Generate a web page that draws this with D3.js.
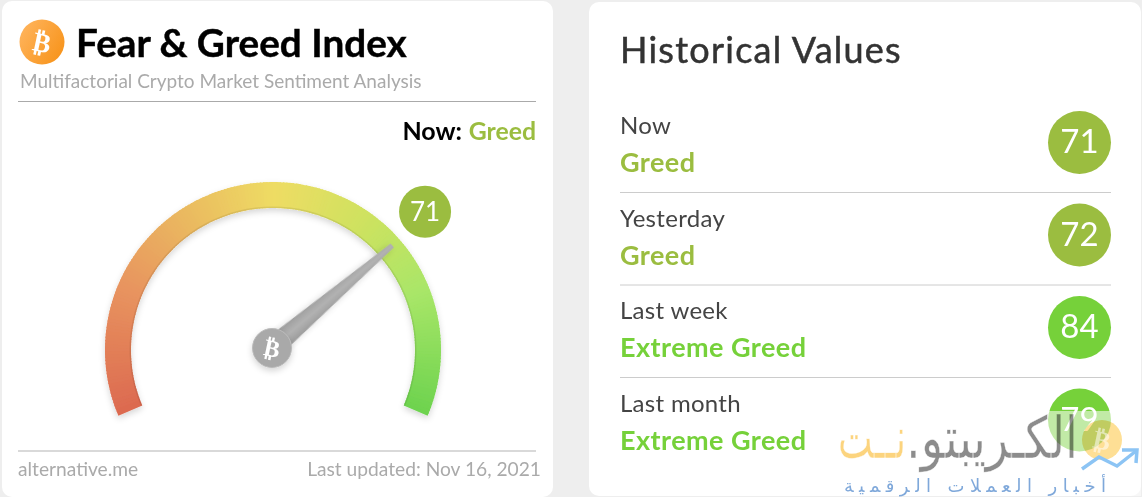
<!DOCTYPE html>
<html><head><meta charset="utf-8">
<script src="https://cdn.jsdelivr.net/npm/d3@7"></script>
<style>html,body{margin:0;padding:0;background:#eee;overflow:hidden}svg{display:block}text{font-family:Lato,sans-serif}</style>
</head><body><svg id="c" width="1142" height="497"></svg>
<script>
const currentValue = 71;
const currentStatus = "Greed";
const periods = ["Now","Yesterday","Last week","Last month"];
const statuses = ["Greed","Greed","Extreme Greed","Extreme Greed"];
const values = [71,72,84,79];
const statusColors = {"Greed":"#9bbd40","Extreme Greed":"#76d13a"};
const gaugeStops = [0,20,35,50,65,80,100];
const gaugeColors = ["#dc6a50","#e8945f","#eab960","#eedc64","#cfe260","#a9e668","#6cd24e"];

const svg = d3.select("#c");
const defs = svg.append("defs");
const sh = defs.append("filter").attr("id","sh").attr("x","-20%").attr("y","-20%").attr("width","140%").attr("height","150%");
sh.append("feDropShadow").attr("dx",0).attr("dy",3).attr("stdDeviation",3).attr("flood-color","#000").attr("flood-opacity",.16);
const og = defs.append("linearGradient").attr("id","og").attr("x1",0).attr("x2",1).attr("y1",.2).attr("y2",.8);
og.append("stop").attr("offset",0).attr("stop-color","#ffb45c");
og.append("stop").attr("offset",1).attr("stop-color","#f7931a");
const ng = defs.append("linearGradient").attr("id","ng").attr("x1",0).attr("x2",1).attr("y1",0).attr("y2",0);
ng.append("stop").attr("offset",0).attr("stop-color","#9c9c9c");
ng.append("stop").attr("offset",.5).attr("stop-color","#b2b2b2");
ng.append("stop").attr("offset",1).attr("stop-color","#9a9a9a");

// cards
svg.append("rect").attr("x",2).attr("y",1).attr("width",551).attr("height",496).attr("rx",10).attr("fill","#fff");
svg.append("rect").attr("x",589).attr("y",2).attr("width",552).attr("height",494).attr("rx",10).attr("fill","#fff");

// left header
function btc(g,cx,cy,size,fill){
  g.append("text").attr("transform",`translate(${cx},${cy}) rotate(12)`).attr("text-anchor","middle").attr("dy","0.36em")
   .style("font-family","'DejaVu Sans'").style("font-weight",700).attr("font-size",size).attr("fill",fill).text("₿");
}
svg.append("circle").attr("cx",42).attr("cy",42).attr("r",22.5).attr("fill","url(#og)");
btc(svg,42,42,27,"#fff");
svg.append("text").attr("x",76).attr("y",57).attr("font-size",38.7).attr("font-weight",700).attr("stroke","#000").attr("stroke-width",.4).attr("fill","#000").text("Fear & Greed Index");
svg.append("text").attr("x",20).attr("y",88).attr("font-size",19).attr("fill","#aaa").text("Multifactorial Crypto Market Sentiment Analysis");
svg.append("line").attr("x1",18).attr("x2",536).attr("y1",101.5).attr("y2",101.5).attr("stroke","#aaa");
svg.append("text").attr("x",462).attr("y",140).attr("text-anchor","end").attr("font-size",25).attr("font-weight",700).attr("fill","#000").text("Now:");
svg.append("text").attr("x",536).attr("y",140).attr("text-anchor","end").attr("font-size",24.8).attr("font-weight",700).attr("fill",statusColors[currentStatus]).text(currentStatus);

// gauge
const cx=273, cy=350, rO=168, rI=142, hubX=272, hubY=348;
const rad = d=>d*Math.PI/180;
const angle = d3.scaleLinear().domain([0,100]).range([-113,113]);
const color = d3.scaleLinear().domain(gaugeStops).range(gaugeColors).interpolate(d3.interpolateRgb);
const gauge = svg.append("g").attr("transform",`translate(${cx},${cy})`);
const arc = d3.arc();
const steps = d3.range(0,100,0.5);
const band = gauge.append("g").attr("filter","url(#sh)");
band.selectAll("path").data(steps).join("path")
  .attr("d",d=>arc({innerRadius:rI,outerRadius:rO,startAngle:rad(angle(d)),endAngle:rad(angle(Math.min(100,d+0.7)))}))
  .attr("fill",d=>color(d));
gauge.append("path").attr("d",arc({innerRadius:rI,outerRadius:rI+1.5,startAngle:rad(angle(0)),endAngle:rad(angle(100))})).attr("fill","#000").attr("opacity",.08);

// needle
const hub = svg.append("g").attr("transform",`translate(${hubX},${hubY})`);
const needleAngle = d3.scaleLinear().domain([0,100]).range([-118,118]);
const needle = hub.append("g").attr("transform",`rotate(${needleAngle(currentValue)})`).attr("filter","url(#sh)");
needle.append("path").attr("d",d3.line()([[-10.5,-8],[-2.5,-158],[2.5,-158],[10.5,-8]])+"Z").attr("fill","url(#ng)");
hub.append("circle").attr("r",19.5).attr("fill","#a9a9a9").attr("stroke","#bbb").attr("filter","url(#sh)");
btc(hub,0,0,24,"#fff");

// value bubble
const bubbleAngle = d3.scaleLinear().domain([0,100]).range([-115,115]);
const bAngle = rad(bubbleAngle(currentValue)-90), bR=205;
const bx=hubX+bR*Math.cos(bAngle), by=hubY+bR*Math.sin(bAngle);
svg.append("circle").attr("cx",bx).attr("cy",by).attr("r",26).attr("fill",statusColors[currentStatus]);
svg.append("text").attr("x",bx).attr("y",by+9).attr("text-anchor","middle").attr("font-size",26).attr("fill","#fff").text(currentValue);

// footer
svg.append("line").attr("x1",18).attr("x2",536).attr("y1",451).attr("y2",451).attr("stroke","#ccc").attr("stroke-width",1.5);
svg.append("text").attr("x",18).attr("y",476).attr("font-size",19.2).attr("fill","#aaa").text("alternative.me");
svg.append("text").attr("x",541).attr("y",476).attr("text-anchor","end").attr("font-size",19.2).attr("fill","#aaa").text("Last updated: Nov 16, 2021");

// right card
svg.append("text").attr("x",620).attr("y",63).attr("font-size",36).attr("letter-spacing",1.25).attr("stroke","#333").attr("stroke-width",.5).attr("fill","#333").text("Historical Values");
const rowY = d3.scaleLinear().domain([0,3]).range([0,277.5]);
const rows = svg.selectAll("g.row").data(periods).join("g").attr("class","row").attr("transform",(d,i)=>`translate(0,${rowY(i)})`);
rows.append("text").attr("x",620).attr("y",134).attr("font-size",24).attr("letter-spacing",.3).attr("fill","#444").text(d=>d);
rows.append("text").attr("x",620).attr("y",172).attr("font-size",27).attr("font-weight",700).attr("letter-spacing",.45).attr("fill",(d,i)=>statusColors[statuses[i]]).text((d,i)=>statuses[i]);
rows.filter((d,i)=>i<3).append("line").attr("x1",620).attr("x2",1111).attr("y1",192.5).attr("y2",192.5).attr("stroke","#ccc");
rows.append("circle").attr("cx",1079.5).attr("cy",142.5).attr("r",31.5).attr("fill",(d,i)=>statusColors[statuses[i]]);

// watermark veil sits over the circles, the numbers stay above it
svg.append("rect").attr("x",830).attr("y",411).attr("width",311).attr("height",85).attr("fill","#fff").attr("opacity",.55);
const coin = svg.append("g").style("mix-blend-mode","multiply");
coin.append("circle").attr("cx",1102).attr("cy",440).attr("r",20).attr("fill","#fedf95");
btc(svg,1102,440,26,"#fff8");
svg.append("path").attr("d",d3.line()([[1082,469],[1099,457],[1117,466],[1136,451]])).attr("fill","none").attr("stroke","#8cc4f4").attr("stroke-width",3.5);
svg.append("path").attr("d",d3.line()([[1122,450],[1137,450],[1136,463]])).attr("fill","none").attr("stroke","#8cc4f4").attr("stroke-width",3.5);
function wmText(x,y,size,fill,len,adj,txt,thin){
  const t=svg.append("text").attr("x",x).attr("y",y).attr("direction","rtl").attr("text-anchor","start").style("font-family","'DejaVu Sans'").attr("font-size",size).attr("fill",fill).attr("textLength",len).attr("lengthAdjust",adj).text(txt);
  if(thin) t.attr("stroke","#fff").attr("stroke-width",thin).attr("stroke-opacity",.8);
  return t;
}
wmText(1078,458,58,"#8c8c8c",172,"spacingAndGlyphs","الكـريبتو.",0.5).style("mix-blend-mode","multiply");
wmText(906,458,58,"#fcd47e",68,"spacingAndGlyphs","نــت",0.5);
wmText(1106,492,18,"#7fa8da",262,"spacing","أخبار العملات الرقمية",0);
rows.append("text").attr("x",1079.5).attr("y",153).attr("text-anchor","middle").attr("font-size",33).attr("fill","#fff").text((d,i)=>values[i]);
</script></body></html>
